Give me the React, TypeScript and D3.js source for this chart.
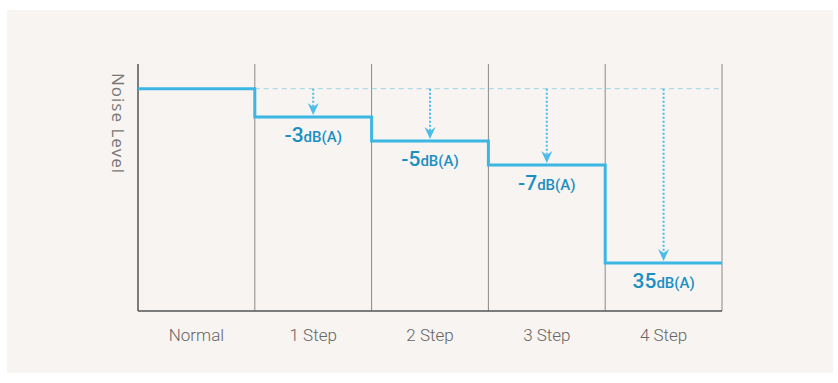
import React from "react";
import * as d3 from "d3";

const categories = ["Normal", "1 Step", "2 Step", "3 Step", "4 Step"];
const levels = [90, 78.5, 68.8, 59.1, 19.4];
const labelNums = ["", "-3", "-5", "-7", "35"];
const labelUnit = "dB(A)";
const yTitle = "Noise Level";

const W = 838;
const H = 383;
const left = 138;
const right = 722;
const top = 64;
const bottom = 311;

export default function App() {
  const x = d3.scaleBand<string>().domain(categories).range([left, right]).padding(0);
  const y = d3.scaleLinear().domain([0, 100]).range([bottom, top]);
  const bw = x.bandwidth();

  const pts: [number, number][] = [];
  categories.forEach((c, i) => {
    pts.push([x(c)!, y(levels[i])]);
    pts.push([x(c)! + bw, y(levels[i])]);
  });
  const line = d3.line()(pts) || "";
  const base = y(levels[0]);
  const lineColor = "#3cb6e3";
  const textColor = "#1b8fc2";

  return (
    <svg width={W} height={H} style={{ position: "absolute", left: 0, top: 0 }}>
      <rect x={0} y={0} width={W} height={H} fill="#ffffff" />
      <rect x={7} y={10} width={826} height={363} fill="#f7f4f1" />
      {categories.map((c, i) =>
        i > 0 ? (
          <line key={c} x1={x(c)!} x2={x(c)!} y1={top} y2={bottom} stroke="#8a8a8a" strokeWidth={1} />
        ) : null
      )}
      <line x1={right} x2={right} y1={top} y2={bottom} stroke="#8a8a8a" strokeWidth={1} />
      <line x1={x(categories[1])!} x2={right} y1={base} y2={base} stroke="#9fd3ea" strokeWidth={1} strokeDasharray="5,4" />
      <line x1={left} x2={left} y1={top} y2={bottom} stroke="#555" strokeWidth={1.5} />
      <line x1={left} x2={right} y1={bottom} y2={bottom} stroke="#555" strokeWidth={1.5} />
      {categories.map((c, i) => {
        if (i === 0) return null;
        const cx = x(c)! + bw / 2;
        const yl = y(levels[i]) - 2;
        return (
          <g key={"a" + c}>
            <line x1={cx} x2={cx} y1={base} y2={yl - 7} stroke="#4bbde8" strokeWidth={2} strokeDasharray="2,2" />
            <path d={`M${cx - 5.5},${yl - 12} L${cx},${yl - 8} L${cx + 5.5},${yl - 12} L${cx},${yl} Z`} fill="#4bbde8" />
          </g>
        );
      })}
      <path d={line} fill="none" stroke={lineColor} strokeWidth={3} />
      {categories.map((c, i) => {
        if (i === 0) return null;
        const cx = x(c)! + bw / 2;
        return (
          <text key={"l" + c} x={cx} y={y(levels[i]) + 25} textAnchor="middle" fill={textColor} fontFamily="Roboto, sans-serif">
            <tspan fontSize={21} fontWeight={500}>{labelNums[i]}</tspan>
            <tspan fontSize={15} fontWeight={500}>{labelUnit}</tspan>
          </text>
        );
      })}
      {categories.map((c) => (
        <text key={"x" + c} x={x(c)! + bw / 2} y={341} textAnchor="middle" fill="#666" fontSize={17} fontWeight={300} fontFamily="Roboto, sans-serif">
          {c}
        </text>
      ))}
      <text transform={`translate(112,73) rotate(90)`} fill="#777" fontSize={17} letterSpacing={1} fontFamily="Open Sans, sans-serif">
        {yTitle}
      </text>
    </svg>
  );
}
